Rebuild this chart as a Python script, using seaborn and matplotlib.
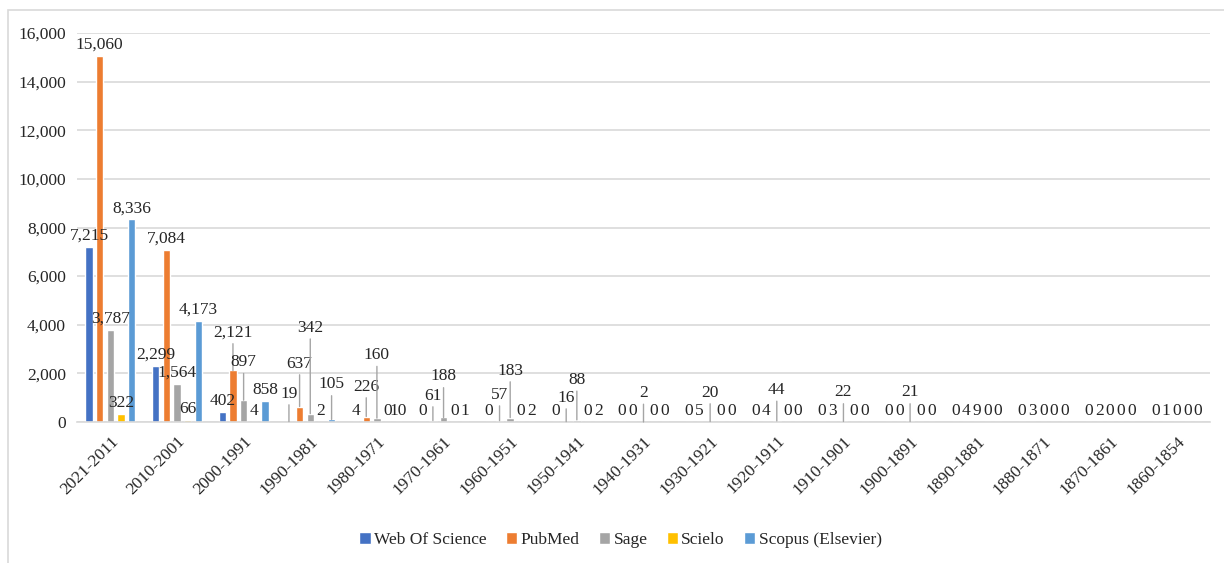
import numpy as np
import pandas as pd
import matplotlib
matplotlib.use("Agg")
import matplotlib.pyplot as plt
import seaborn as sns
from matplotlib.patches import Rectangle
from matplotlib.ticker import FuncFormatter

# Data
periods = ["2021-2011", "2010-2001", "2000-1991", "1990-1981", "1980-1971",
           "1970-1961", "1960-1951", "1950-1941", "1940-1931", "1930-1921",
           "1920-1911", "1910-1901", "1900-1891", "1890-1881", "1880-1871",
           "1870-1861", "1860-1854"]
web_of_science = [7215, 2299, 402, 19, 4, 0, 0, 0, 0, 0, 0, 0, 0, 0, 0, 0, 0]
pubmed = [15060, 7084, 2121, 637, 226, 61, 57, 16, 0, 5, 4, 3, 0, 4, 3, 2, 1]
sage = [3787, 1564, 897, 342, 160, 188, 183, 88, 2, 20, 44, 22, 21, 9, 0, 0, 0]
scielo = [322, 66, 4, 2, 0, 0, 0, 0, 0, 0, 0, 0, 0, 0, 0, 0, 0]
scopus = [8336, 4173, 858, 105, 10, 1, 2, 2, 0, 0, 0, 0, 0, 0, 0, 0, 0]

series_names = ["Web Of Science", "PubMed", "Sage", "Scielo", "Scopus (Elsevier)"]
series_values = [web_of_science, pubmed, sage, scielo, scopus]
colors = ["#4472C4", "#ED7D31", "#A5A5A5", "#FFC000", "#5B9BD5"]

# labels that Excel moved up (pixels above bar top) with a leader line
raised = {
    (1, 2): 38, (2, 2): 38,
    (0, 3): 28, (1, 3): 43, (2, 3): 86, (4, 3): 35,
    (1, 4): 30, (2, 4): 63,
    (1, 5): 25, (2, 5): 41,
    (1, 6): 26, (2, 6): 47,
    (1, 7): 24, (2, 7): 40,
    (2, 8): 29, (2, 9): 29, (2, 10): 31, (2, 11): 29, (2, 12): 29,
}

rows = []
for name, vals in zip(series_names, series_values):
    for p, v in zip(periods, vals):
        rows.append({"period": p, "source": name, "count": v})
df = pd.DataFrame(rows)

sns.set_style("white")
plt.rcParams['font.family'] = ['Liberation Serif', 'DejaVu Serif']
FS = 12.5

fig = plt.figure(figsize=(12.24, 5.63), dpi=100)
ax = fig.add_axes([77 / 1224, 1 - 422 / 563, (1210 - 77) / 1224, (422 - 33) / 563])

sns.barplot(data=df, x="period", y="count", hue="source", order=periods,
            hue_order=series_names, palette=colors, width=0.8, gap=0.3,
            saturation=1, ax=ax, legend=True)

ax.set_ylim(0, 16000)
ax.set_yticks(np.arange(0, 16001, 2000))
ax.yaxis.set_major_formatter(FuncFormatter(lambda v, _: f"{int(v):,}"))
ax.grid(axis="y", color="#D9D9D9", linewidth=1.2)
ax.set_axisbelow(True)
for s in ["top", "right", "left"]:
    ax.spines[s].set_visible(False)
ax.spines["bottom"].set_color("#D9D9D9")
ax.spines["bottom"].set_linewidth(1.2)
ax.tick_params(axis="both", length=0, labelsize=FS, pad=8)
ax.set_xlabel("")
ax.set_ylabel("")
plt.setp(ax.get_xticklabels(), rotation=45, ha="right", rotation_mode="anchor")

# data labels
for si, container in enumerate(ax.containers):
    for ci, bar in enumerate(container):
        val = series_values[si][ci]
        x = bar.get_x() + bar.get_width() / 2
        y = bar.get_height()
        lift = raised.get((si, ci))
        if lift is None:
            ax.annotate(f"{val:,}", (x, y), xytext=(0, 3), textcoords="offset pixels",
                        ha="center", va="bottom", fontsize=FS)
        else:
            ax.annotate(f"{val:,}", (x, y), xytext=(0, lift), textcoords="offset pixels",
                        ha="center", va="center", fontsize=FS,
                        arrowprops=dict(arrowstyle="-", color="#A5A5A5", lw=1,
                                        shrinkA=0, shrinkB=0, relpos=(0.5, 0)))

handles, labels = ax.get_legend_handles_labels()
ax.legend(handles, labels, loc="center", bbox_to_anchor=(0.507, 0.041),
          bbox_transform=fig.transFigure, ncol=5, frameon=False, fontsize=FS,
          handlelength=0.65, handleheight=0.65, handletextpad=0.2, columnspacing=1.1)

# chart area border
fig.patches.append(Rectangle((8 / 1224, -0.1), 1.2, 1 - 10 / 563 + 0.1,
                             transform=fig.transFigure, fill=False,
                             edgecolor="#D9D9D9", linewidth=1.2))

fig.savefig("out.png", dpi=100)
